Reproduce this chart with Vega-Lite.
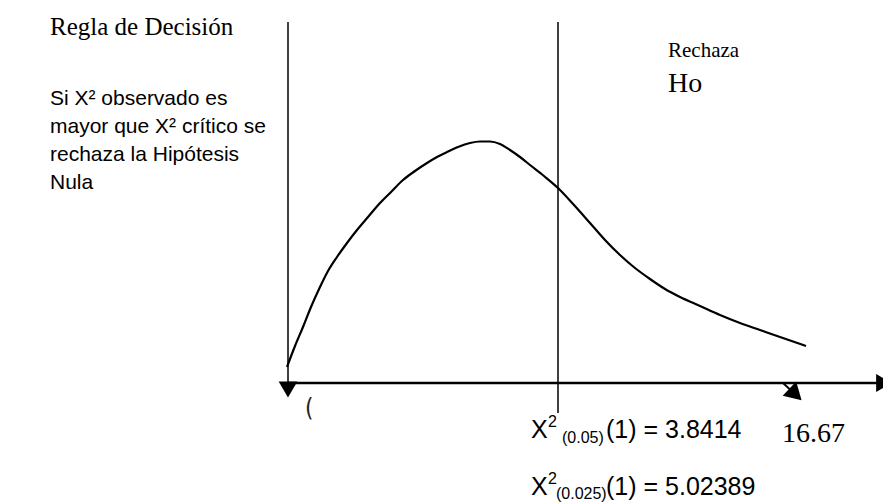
{
  "$schema": "https://vega.github.io/schema/vega-lite/v6.json",
  "width": 883,
  "height": 502,
  "padding": 0,
  "autosize": {"type": "none"},
  "background": "white",
  "config": {"view": {"stroke": null}},
  "datasets": {
    "curve": [
      {"x": 287, "y": 367}, {"x": 295, "y": 346}, {"x": 303, "y": 327}, {"x": 311, "y": 307},
      {"x": 320, "y": 287}, {"x": 328, "y": 271}, {"x": 337, "y": 257}, {"x": 347, "y": 243},
      {"x": 357, "y": 230}, {"x": 368, "y": 217}, {"x": 380, "y": 203}, {"x": 392, "y": 191},
      {"x": 403, "y": 180}, {"x": 415, "y": 171}, {"x": 427, "y": 163}, {"x": 437, "y": 157},
      {"x": 447, "y": 152}, {"x": 458, "y": 147}, {"x": 470, "y": 143}, {"x": 480, "y": 141.5},
      {"x": 490, "y": 141.5}, {"x": 500, "y": 144}, {"x": 510, "y": 150}, {"x": 520, "y": 157},
      {"x": 530, "y": 165}, {"x": 544, "y": 176}, {"x": 558, "y": 188}, {"x": 574, "y": 205},
      {"x": 590, "y": 223}, {"x": 605, "y": 240}, {"x": 620, "y": 255}, {"x": 635, "y": 268},
      {"x": 650, "y": 279}, {"x": 665, "y": 289}, {"x": 680, "y": 297}, {"x": 700, "y": 306},
      {"x": 720, "y": 315}, {"x": 740, "y": 323}, {"x": 760, "y": 330}, {"x": 780, "y": 337},
      {"x": 806, "y": 346}
    ],
    "vlines": [
      {"x": 288, "y": 22, "y2": 388},
      {"x": 558, "y": 22, "y2": 413}
    ],
    "axisline": [{"x": 288, "x2": 880, "y": 383}],
    "pointer": [{"x": 783, "y": 383, "x2": 796, "y2": 395}],
    "headDown": [{"x": 288, "y": 389.5}],
    "headRight": [{"x": 884, "y": 383}],
    "headDiag": [{"x": 795.5, "y": 394.5}],
    "serifTitle": [{"x": 50, "y": 35, "label": "Regla de Decisión"}],
    "sansPara": [
      {"x": 50, "y": 105, "label": "Si X² observado es"},
      {"x": 50, "y": 133, "label": "mayor que X² crítico se"},
      {"x": 50, "y": 161, "label": "rechaza la Hipótesis"},
      {"x": 50, "y": 189, "label": "Nula"}
    ],
    "serifSmall": [{"x": 668, "y": 57, "label": "Rechaza"}],
    "serifBig": [
      {"x": 668, "y": 92, "label": "Ho"},
      {"x": 782, "y": 442, "label": "16.67"}
    ],
    "zeroMark": [{"x": 305, "y": 416, "label": "("}],
    "sansMain": [
      {"x": 531, "y": 438, "label": "X"},
      {"x": 606, "y": 438, "label": "(1) = 3.8414"},
      {"x": 531, "y": 495, "label": "X"},
      {"x": 606, "y": 495, "label": "(1) = 5.02389"}
    ],
    "sansSup": [
      {"x": 548, "y": 427, "label": "2"},
      {"x": 548, "y": 484, "label": "2"}
    ],
    "sansSub": [
      {"x": 562, "y": 443, "label": "(0.05)"},
      {"x": 556, "y": 499, "label": "(0.025)"}
    ]
  },
  "encoding": {
    "x": {"field": "x", "type": "quantitative", "scale": {"domain": [0, 883], "nice": false, "zero": false}, "axis": null},
    "y": {"field": "y", "type": "quantitative", "scale": {"domain": [0, 502], "nice": false, "zero": false, "reverse": true}, "axis": null}
  },
  "layer": [
    {
      "data": {"name": "vlines"},
      "mark": {"type": "rule", "color": "#000000", "strokeWidth": 1.5},
      "encoding": {"y2": {"field": "y2"}}
    },
    {
      "data": {"name": "axisline"},
      "mark": {"type": "rule", "color": "#000000", "strokeWidth": 2.5},
      "encoding": {"x2": {"field": "x2"}}
    },
    {
      "data": {"name": "pointer"},
      "mark": {"type": "rule", "color": "#000000", "strokeWidth": 2},
      "encoding": {"x2": {"field": "x2"}, "y2": {"field": "y2"}}
    },
    {
      "data": {"name": "curve"},
      "mark": {"type": "line", "color": "#000000", "strokeWidth": 2.2, "interpolate": "monotone"},
      "encoding": {}
    },
    {
      "data": {"name": "headDown"},
      "mark": {"type": "point", "shape": "triangle-down", "filled": true, "size": 350, "color": "#000000", "opacity": 1, "strokeWidth": 0}
    },
    {
      "data": {"name": "headRight"},
      "mark": {"type": "point", "shape": "triangle-right", "filled": true, "size": 330, "color": "#000000", "opacity": 1, "strokeWidth": 0}
    },
    {
      "data": {"name": "headDiag"},
      "mark": {"type": "point", "shape": "triangle-right", "filled": true, "size": 380, "angle": 44, "color": "#000000", "opacity": 1, "strokeWidth": 0}
    },
    {
      "data": {"name": "serifTitle"},
      "mark": {"type": "text", "align": "left", "baseline": "alphabetic", "font": "Liberation Serif", "fontSize": 25, "color": "#000000"},
      "encoding": {"text": {"field": "label"}}
    },
    {
      "data": {"name": "sansPara"},
      "mark": {"type": "text", "align": "left", "baseline": "alphabetic", "font": "Liberation Sans", "fontSize": 21, "color": "#000000"},
      "encoding": {"text": {"field": "label"}}
    },
    {
      "data": {"name": "serifSmall"},
      "mark": {"type": "text", "align": "left", "baseline": "alphabetic", "font": "Liberation Serif", "fontSize": 21, "color": "#000000"},
      "encoding": {"text": {"field": "label"}}
    },
    {
      "data": {"name": "serifBig"},
      "mark": {"type": "text", "align": "left", "baseline": "alphabetic", "font": "Liberation Serif", "fontSize": 28, "color": "#000000"},
      "encoding": {"text": {"field": "label"}}
    },
    {
      "data": {"name": "zeroMark"},
      "mark": {"type": "text", "align": "left", "baseline": "alphabetic", "font": "DejaVu Sans Condensed", "fontSize": 24, "color": "#222222"},
      "encoding": {"text": {"field": "label"}}
    },
    {
      "data": {"name": "sansMain"},
      "mark": {"type": "text", "align": "left", "baseline": "alphabetic", "font": "Liberation Sans", "fontSize": 25, "color": "#000000"},
      "encoding": {"text": {"field": "label"}}
    },
    {
      "data": {"name": "sansSup"},
      "mark": {"type": "text", "align": "left", "baseline": "alphabetic", "font": "Liberation Sans", "fontSize": 16, "color": "#000000"},
      "encoding": {"text": {"field": "label"}}
    },
    {
      "data": {"name": "sansSub"},
      "mark": {"type": "text", "align": "left", "baseline": "alphabetic", "font": "Liberation Sans", "fontSize": 16, "color": "#000000"},
      "encoding": {"text": {"field": "label"}}
    }
  ]
}
